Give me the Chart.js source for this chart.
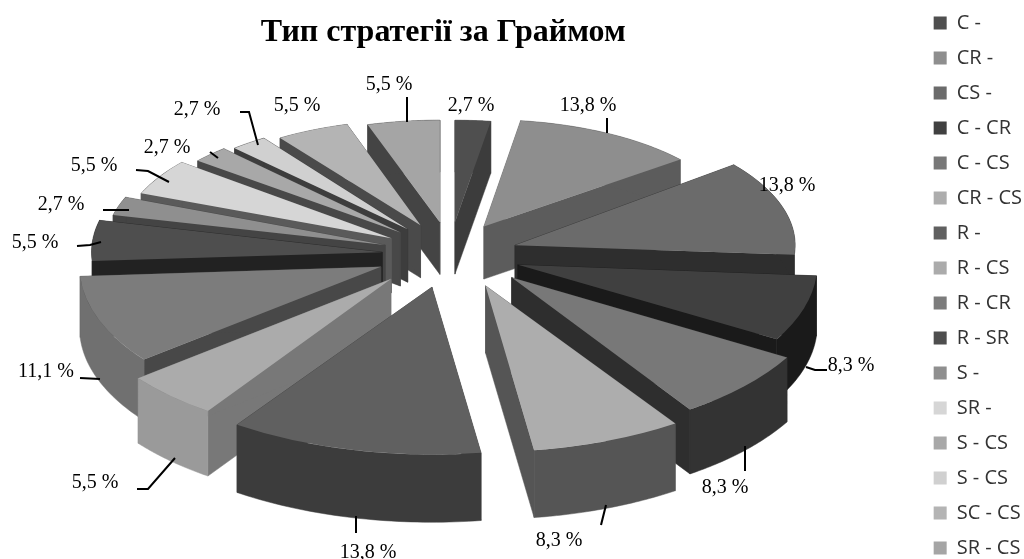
<!DOCTYPE html>
<html>
<head>
<meta charset="utf-8">
<title>Тип стратегії за Граймом</title>
<script src="https://cdn.jsdelivr.net/npm/chart.js@4/dist/chart.umd.min.js"></script>
<style>
    html, body { margin: 0; padding: 0; background: #fff; overflow: hidden; }
    #wrap { width: 1024px; height: 559px; overflow: hidden; }
    canvas { display: block; }
</style>
</head>
<body>
<div id="wrap"><canvas id="chart" width="1032" height="600"></canvas></div>
<script>
const categories = ['C -', 'CR -', 'CS -', 'C - CR', 'C - CS', 'CR - CS', 'R -', 'R - CS', 'R - CR', 'R - SR', 'S -', 'SR -', 'S - CS', 'S - CS', 'SC - CS', 'SR - CS'];
const percents = [2.7, 13.8, 13.8, 8.3, 8.3, 8.3, 13.8, 5.5, 11.1, 5.5, 2.7, 5.5, 2.7, 2.7, 5.5, 5.5];

const topColors = ['#4f4f4f', '#8e8e8e', '#6b6b6b', '#404040', '#787878', '#adadad', '#606060', '#ababab', '#7c7c7c', '#4e4e4e', '#8f8f8f', '#d6d6d6', '#a8a8a8', '#d0d0d0', '#b4b4b4', '#a5a5a5'];
const cutColors = ['#3c3c3c', '#5c5c5c', '#2e2e2e', '#1a1a1a', '#2e2e2e', '#555555', '#3f3f3f', '#787878', '#484848', '#222222', '#444444', '#5a5a5a', '#484848', '#3d3d3d', '#4a4a4a', '#444444'];
const wallColors = ['#3c3c3c', '#5c5c5c', '#2e2e2e', '#1a1a1a', '#333333', '#555555', '#3c3c3c', '#9a9a9a', '#707070', '#222222', '#444444', '#5a5a5a', '#484848', '#3d3d3d', '#4a4a4a', '#444444'];

// label text centres and leader lines
const labelSpots = [[471, 106], [588, 106], [787, 186], [851, 366], [725, 488], [559, 541], [368, 553], [95, 483], [46, 372], [35, 243], [61, 205], [94, 166], [167, 148], [197, 110], [297, 106], [389, 85]];
const leaderLines = [
    [],
    [[607, 118], [607, 133]],
    [],
    [[806, 367], [815, 370], [827, 370]],
    [[745, 446], [745, 471]],
    [[606, 505], [601, 525]],
    [[356, 516], [356, 533]],
    [[137, 489], [148, 489], [175, 458]],
    [[80, 378], [100, 379]],
    [[77, 246], [90, 245], [101, 242]],
    [[103, 210], [129, 210]],
    [[136, 170], [148, 171], [169, 182]],
    [[210, 152], [218, 158]],
    [[240, 112], [249, 112], [258, 145]],
    [],
    [[407, 97], [407, 122]]
];

const centerX = 450;
const centerY = 255;

// fake perspective: each slice gets its own squash, the front ones are bigger
function sliceFrame(arc) {
    const mid = (arc.startAngle + arc.endAngle) / 2;
    const s = Math.sin(mid);
    const c = Math.cos(mid);
    let spread = 0;
    if (s > 0) {
        spread = c > 0 ? 35 * s * s * c : -50 * s * s * c * c;
    }
    return {
        ox: centerX + 68 * c + spread,
        oy: centerY + 33 * s,
        sx: s > 0 ? 1 + 0.17 * s * s : 1 + 0.17 * s,
        sy: s > 0 ? 0.475 + 0.095 * s : 0.475 + 0.13 * s,
        depth: s > 0 ? 57 + 11 * s : 57 + 5 * s
    };
}

function quad(ctx, pts, color) {
    ctx.fillStyle = color;
    ctx.strokeStyle = color;
    ctx.lineWidth = 0.5;
    ctx.beginPath();
    pts.forEach((p, i) => i ? ctx.lineTo(p[0], p[1]) : ctx.moveTo(p[0], p[1]));
    ctx.closePath();
    ctx.fill();
    ctx.stroke();
}

function drawSlice(ctx, arc, i) {
    const f = sliceFrame(arc);
    const r = arc.outerRadius;
    const rim = a => [f.ox + f.sx * r * Math.cos(a), f.oy + f.sy * r * Math.sin(a)];
    const down = p => [p[0], p[1] + f.depth];
    const apex = [f.ox, f.oy];

    [arc.startAngle, arc.endAngle].forEach(a => {
        const p = rim(a);
        quad(ctx, [apex, p, down(p), down(apex)], cutColors[i]);
    });

    const upper = [];
    for (let k = 0; k <= 40; k++) {
        upper.push(rim(arc.startAngle + (arc.endAngle - arc.startAngle) * k / 40));
    }
    quad(ctx, upper.concat(upper.map(down).reverse()), wallColors[i]);

    ctx.save();
    ctx.translate(f.ox, f.oy);
    ctx.scale(f.sx, f.sy);
    ctx.translate(-arc.x, -arc.y);
    arc.draw(ctx);
    ctx.restore();
}

const pie3d = {
    id: 'pie3d',
    afterLayout(chart) {
        chart.titleBlock.right -= 32;
        chart.legend.top -= 2;
    },
    beforeDatasetsDraw(chart) {
        const ctx = chart.ctx;
        const arcs = chart.getDatasetMeta(0).data;
        const order = arcs.map((arc, i) => i).sort((a, b) => sliceFrame(arcs[a]).oy - sliceFrame(arcs[b]).oy);
        order.forEach(i => drawSlice(ctx, arcs[i], i));

        ctx.strokeStyle = '#000';
        ctx.lineWidth = 2;
        leaderLines.forEach(line => {
            if (!line.length) return;
            ctx.beginPath();
            line.forEach((p, i) => i ? ctx.lineTo(p[0], p[1]) : ctx.moveTo(p[0], p[1]));
            ctx.stroke();
        });

        ctx.fillStyle = '#000';
        ctx.font = '20px "Liberation Serif"';
        ctx.textAlign = 'center';
        ctx.textBaseline = 'middle';
        percents.forEach((v, i) => {
            ctx.fillText(v.toFixed(1).replace('.', ',') + ' %', labelSpots[i][0], labelSpots[i][1]);
        });
        return false;
    }
};

new Chart(document.getElementById('chart').getContext('2d'), {
    type: 'pie',
    data: {
        labels: categories,
        datasets: [{
            data: percents,
            backgroundColor: topColors,
            borderWidth: 0
        }]
    },
    options: {
        responsive: false,
        animation: false,
        radius: 295,
        plugins: {
            title: {
                display: true,
                text: 'Тип стратегії за Граймом',
                fullSize: false,
                color: '#000',
                font: { family: '"Liberation Serif"', size: 32, weight: 'bold' },
                padding: { top: 14, bottom: 10 }
            },
            legend: {
                position: 'right',
                align: 'start',
                labels: {
                    color: '#333',
                    font: { family: '"Open Sans"', size: 20 },
                    boxWidth: 13,
                    boxHeight: 13,
                    padding: 15
                }
            },
            tooltip: { enabled: false }
        }
    },
    plugins: [pie3d]
});
</script>
</body>
</html>
